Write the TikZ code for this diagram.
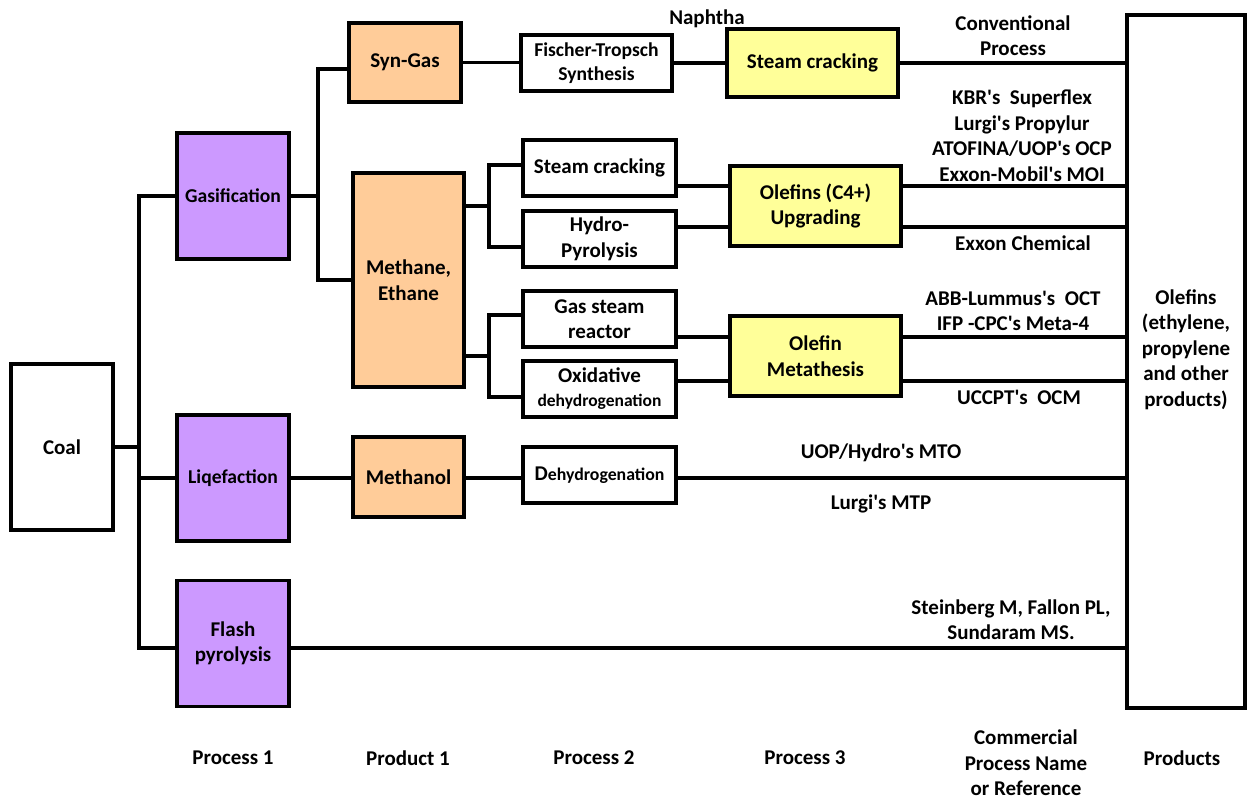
\documentclass[tikz,border=0pt]{standalone}
\usepackage{fontspec}
\setmainfont{Carlito}
\usetikzlibrary{calc}

\definecolor{procfill}{HTML}{CC99FF}
\definecolor{prodfill}{HTML}{FFCC99}
\definecolor{stepfill}{HTML}{FFFF99}

% straight apostrophe
\newcommand{\ap}{\textquotesingle}

\tikzset{
  x=1pt, y=1pt,
  txt/.style={font=\bfseries\fontsize{21}{25.5}\selectfont, align=center, inner sep=0pt},
  smalltxt/.style={font=\bfseries\fontsize{19.6}{23.5}\selectfont},
  box/.style={txt, draw, line width=3.2pt, fill=white},
  procbox/.style={box, fill=procfill, minimum width=112pt, minimum height=126pt},
  prodbox/.style={box, fill=prodfill, minimum width=111pt},
  stepbox/.style={box, minimum width=153pt, minimum height=56pt},
  finebox/.style={box, fill=stepfill, minimum width=171pt, minimum height=80pt},
  link/.style={line width=3.6pt}
}

\begin{document}
\begin{tikzpicture}
\useasboundingbox (0,0) rectangle (1247,-796);

% feedstock and first-stage processes
\node[box, minimum width=102pt, minimum height=166pt] (coal) at (62,-447) {Coal};
\node[procbox, smalltxt] (gasif) at (233,-196) {Gasification};
\node[procbox, smalltxt] (liq) at (233,-478) {Liqefaction};
\node[procbox] (flash) at (233,-643.5) {Flash\\pyrolysis};

% first products
\node[prodbox, minimum width=112pt, minimum height=79pt] (syngas) at (405,-62.5) {Syn-Gas};
\node[prodbox, minimum height=214pt] (methane) at (408.5,-280) {Methane,\\Ethane};
\node[prodbox, minimum height=80pt] (methanol) at (408.5,-477) {Methanol};

% second-stage processes
\node[stepbox, smalltxt, minimum width=151pt] (ft) at (596.5,-63) {Fischer-Tropsch\\Synthesis};
\node[stepbox] (sc2) at (599.5,-168) {Steam cracking};
\node[stepbox] (hp) at (599.5,-239) {Hydro-\\Pyrolysis};
\node[stepbox] (gsr) at (599.5,-319) {Gas steam\\reactor};
\node[stepbox, font=\bfseries\fontsize{21}{24}\selectfont] (odh) at (599.5,-389)
  {Oxidative\\{\fontsize{17.5}{20}\selectfont dehydrogenation}};
\node[stepbox] (dehyd) at (599.5,-475) {D{\fontsize{17.8}{20}\selectfont ehydrogenation}};

% third-stage processes
\node[finebox, minimum height=68pt] (scy) at (812.5,-63) {Steam cracking};
\node[finebox] (upg) at (815.5,-206) {Olefins (C4+)\\Upgrading};
\node[finebox] (meta) at (815.5,-356) {Olefin\\Metathesis};

% final products
\node[box, minimum width=118pt, minimum height=693pt] (prod) at (1186,-361.5) {};
\node[txt] (prodlbl) at (1186,-349.5) {Olefins\\(ethylene,\\propylene\\and other\\products)};

% process names and references
\node[txt] (naphtha) at (707,-19) {Naphtha};
\node[txt] (conv) at (1013,-35.5) {Conventional\\Process};
\node[txt] (c4lbl) at (1022,-135.5) {KBR\ap s~ Superflex\\Lurgi\ap s Propylur\\ATOFINA/UOP\ap s OCP\\Exxon-Mobil\ap s MOI};
\node[txt] (exxon) at (1023,-243) {Exxon Chemical};
\node[txt] (metalbl) at (1013,-311) {ABB-Lummus\ap s~ OCT\\IFP -CPC\ap s Meta-4};
\node[txt] (uccpt) at (1019,-397) {UCCPT\ap s~ OCM};
\node[txt] (mto) at (881,-453) {UOP/Hydro\ap s MTO};
\node[txt] (mtp) at (881,-504) {Lurgi\ap s MTP};
\node[txt] (stein) at (1011,-619.5) {Steinberg M, Fallon PL,\\Sundaram MS.};

% column headings
\node[txt] (h1) at (233,-758) {Process 1};
\node[txt] (h2) at (408,-758) {Product 1};
\node[txt] (h3) at (594,-758) {Process 2};
\node[txt] (h4) at (805,-758) {Process 3};
\node[txt] (h5) at (1026,-763) {Commercial\\Process Name\\or Reference};
\node[txt] (h6) at (1182,-758) {Products};

% junctions and line levels
\coordinate (j1) at (139,-447);
\coordinate (j2) at (318,-196);
\coordinate (j3) at (489,-206);
\coordinate (j4) at (489,-356);
\coordinate (L69) at (0,-69);
\coordinate (L165) at (0,-165);
\coordinate (L186) at (0,-186);
\coordinate (L227) at (0,-227);
\coordinate (L247) at (0,-247);
\coordinate (L315) at (0,-315);
\coordinate (L337) at (0,-337);
\coordinate (L381) at (0,-381);
\coordinate (L397) at (0,-397);
\coordinate (L478) at (0,-478);
\coordinate (L648) at (0,-648);

% coal to first-stage processes
\draw[link] (coal.east) -- (j1);
\draw[link] (gasif.west) -| (j1) |- (flash.west |- L648);
\draw[link] (j1 |- liq.west) -- (liq.west);

% gasification branch
\draw[link] (gasif.east) -- (j2);
\draw[link] (syngas.west |- L69) -| (j2) |- (methane.west);
\draw[link] (syngas.east) -- (syngas.east -| ft.west);
\draw[link] (ft.east) -- (ft.east -| scy.west);
\draw[link] (scy.east) -- (scy.east -| prod.west);

% methane / ethane branches
\draw[link] (methane.east |- j3) -- (j3);
\draw[link] (sc2.west |- L165) -| (j3) |- (hp.west |- L247);
\draw[link] (methane.east |- j4) -- (j4);
\draw[link] (gsr.west |- L315) -| (j4) |- (odh.west |- L397);

\draw[link] (sc2.east |- L186) -- (upg.west |- L186);
\draw[link] (hp.east |- L227) -- (upg.west |- L227);
\draw[link] (upg.east |- L186) -- (prod.west |- L186);
\draw[link] (upg.east |- L227) -- (prod.west |- L227);

\draw[link] (gsr.east |- L337) -- (meta.west |- L337);
\draw[link] (odh.east |- L381) -- (meta.west |- L381);
\draw[link] (meta.east |- L337) -- (prod.west |- L337);
\draw[link] (meta.east |- L381) -- (prod.west |- L381);

% liquefaction branch
\draw[link] (liq.east) -- (liq.east -| methanol.west);
\draw[link] (methanol.east |- L478) -- (dehyd.west |- L478);
\draw[link] (dehyd.east |- L478) -- (prod.west |- L478);

% flash pyrolysis
\draw[link] (flash.east |- L648) -- (prod.west |- L648);
\end{tikzpicture}
\end{document}
